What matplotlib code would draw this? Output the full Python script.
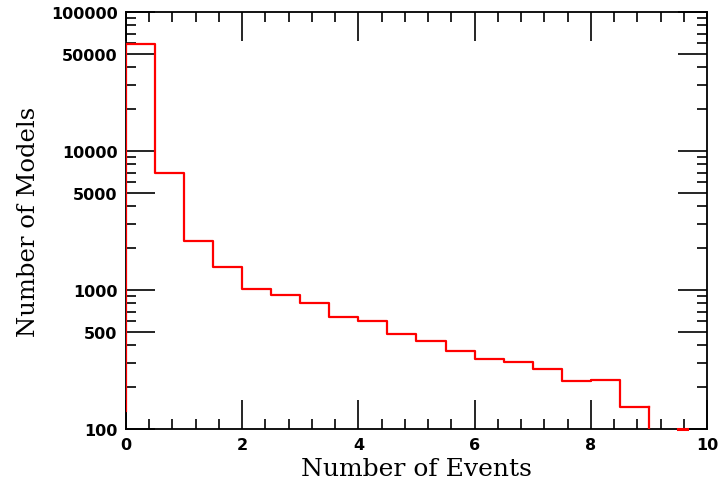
import numpy as np
import matplotlib
matplotlib.use('Agg')
import matplotlib.pyplot as plt
from matplotlib.ticker import FixedLocator, NullFormatter

# histogram of events per model, bin width 0.5
edges = [0.0, 0.5, 1.0, 1.5, 2.0, 2.5, 3.0, 3.5, 4.0, 4.5, 5.0,
         5.5, 6.0, 6.5, 7.0, 7.5, 8.0, 8.5, 9.0, 9.5, 9.65]
counts = [59000, 7000, 2240, 1460, 1020, 925, 800, 640, 600, 480, 430,
          365, 320, 304, 270, 220, 224, 144, 1, 100]
start_count = 135

xticks = [0, 2, 4, 6, 8, 10]
yticks = [100, 500, 1000, 5000, 10000, 50000, 100000]
ylabels = ['100', '500', '1000', '5000', '10000', '50000', '100000']

fig = plt.figure(figsize=(7.19, 4.85), dpi=100, facecolor='white')
ax = fig.add_axes([0.1752, 0.1134, 0.8081, 0.8598])

xs = [edges[0]]
ys = [start_count]
for i, c in enumerate(counts):
    xs += [edges[i], edges[i + 1]]
    ys += [c, c]
# drop to the axis after the last real bin, then the stray bin on the axis
ax.plot(xs[:-4], ys[:-4], color='red', lw=1.6, zorder=3)
ax.plot([edges[-3], edges[-3]], [counts[-3], 90], color='red', lw=1.6, zorder=3)
ax.plot(edges[-2:], [counts[-1], counts[-1]], color='red', lw=2.2,
        clip_on=False, zorder=4)

ax.set_yscale('log')
ax.set_xlim(0, 10)
ax.set_ylim(100, 100000)

ax.xaxis.set_major_locator(FixedLocator(xticks))
ax.xaxis.set_minor_locator(FixedLocator(np.arange(0, 10.01, 0.4)))
ax.yaxis.set_major_locator(FixedLocator(yticks))
ax.set_yticklabels(ylabels)
minor_y = []
for d in [100, 1000, 10000]:
    minor_y += [d * k for k in [2, 3, 4, 6, 7, 8, 9]]
ax.yaxis.set_minor_locator(FixedLocator(minor_y))
ax.yaxis.set_minor_formatter(NullFormatter())

ax.tick_params(which='both', direction='in', top=True, right=True,
               width=1.2, color='black')
ax.tick_params(which='major', length=21)
ax.tick_params(which='minor', length=7)
ax.tick_params(axis='both', which='major', labelsize=11.5, pad=6)
for lab in ax.get_xticklabels() + ax.get_yticklabels():
    lab.set_fontweight('bold')
    lab.set_family('DejaVu Sans')
for sp in ax.spines.values():
    sp.set_linewidth(1.3)

ax.set_xlabel('Number of Events', family='DejaVu Serif', fontsize=18, labelpad=3)
ax.set_ylabel('Number of Models', family='DejaVu Serif', fontsize=17.5, labelpad=8)

fig.savefig('out.png', dpi=100, facecolor='white')
